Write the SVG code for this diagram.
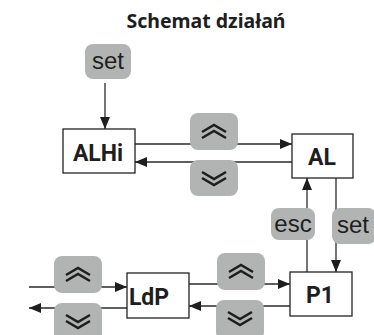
<svg xmlns="http://www.w3.org/2000/svg" width="374" height="335" viewBox="0 0 374 335">
<style>
.btn{fill:#b2b4b3}
.box{fill:#fff;stroke:#222;stroke-width:1.3}
.ln{fill:none;stroke:#2a2a2a;stroke-width:1.3}
.lbl{font-family:Roboto,"Noto Sans",sans-serif;font-weight:bold;font-size:23px;fill:#1e1e1e;text-anchor:middle}
.bt{font-family:"Liberation Sans",Arial,sans-serif;font-size:24px;fill:#1e1e1e;text-anchor:middle}
.title{font-family:"Noto Sans",sans-serif;font-weight:bold;font-size:19.5px;fill:#1e1e1e;text-anchor:middle}
.chev{fill:none;stroke:#1e1e1e;stroke-width:2.6}
</style>
<defs>
<marker id="ah" viewBox="0 0 12 10" refX="12" refY="5" markerWidth="12" markerHeight="10" markerUnits="userSpaceOnUse" orient="auto">
<path d="M0,0 L12,5 L0,10 Z" fill="#1e1e1e"/>
</marker>
<g id="cu"><path class="chev" d="M-12,1 L0,-6 L12,1 M-12,7 L0,0 L12,7"/></g>
<g id="cd"><path class="chev" d="M-12,-6 L0,1 L12,-6 M-12,0 L0,7 L12,0"/></g>
</defs>
<text class="title" x="206" y="28">Schemat działań</text>
<g id="connectors">
<line class="ln" x1="105" y1="83" x2="105" y2="129" marker-end="url(#ah)"/>
<line class="ln" x1="135" y1="144" x2="292" y2="144" marker-end="url(#ah)"/>
<line class="ln" x1="292" y1="162" x2="135" y2="162" marker-end="url(#ah)"/>
<line class="ln" x1="307" y1="272" x2="307" y2="178" marker-end="url(#ah)"/>
<line class="ln" x1="336" y1="178" x2="336" y2="272" marker-end="url(#ah)"/>
<line class="ln" x1="29" y1="287" x2="127" y2="287" marker-end="url(#ah)"/>
<line class="ln" x1="127" y1="308" x2="29" y2="308" marker-end="url(#ah)"/>
<line class="ln" x1="189" y1="284" x2="290" y2="284" marker-end="url(#ah)"/>
<line class="ln" x1="290" y1="306" x2="189" y2="306" marker-end="url(#ah)"/>
</g>
<g id="btn-set-top"><rect class="btn" x="85" y="44" width="46" height="35" rx="8"/><text class="bt" x="108" y="69">set</text></g>
<g id="btn-up-1"><rect class="btn" x="190" y="113" width="48" height="37" rx="8"/><use href="#cu" x="214" y="131"/></g>
<g id="btn-down-1"><rect class="btn" x="190" y="160" width="48" height="36" rx="8"/><use href="#cd" x="214" y="178"/></g>
<g id="btn-esc"><rect class="btn" x="271" y="208" width="44" height="32" rx="8"/><text class="bt" x="293" y="232">esc</text></g>
<g id="btn-set-right"><rect class="btn" x="332" y="208" width="44" height="36" rx="8"/><text class="bt" x="353" y="233">set</text></g>
<g id="btn-up-left"><rect class="btn" x="54" y="256" width="48" height="37" rx="8"/><use href="#cu" x="78" y="274"/></g>
<g id="btn-down-left"><rect class="btn" x="54" y="303" width="48" height="40" rx="8"/><use href="#cd" x="78" y="321"/></g>
<g id="btn-up-mid"><rect class="btn" x="217" y="253" width="48" height="37" rx="8"/><use href="#cu" x="241" y="271"/></g>
<g id="btn-down-mid"><rect class="btn" x="216" y="300" width="48" height="40" rx="8"/><use href="#cd" x="240" y="318"/></g>
<g id="node-ALHi"><rect class="box" x="63" y="129" width="72" height="44"/><text class="lbl" x="98" y="161">ALHi</text></g>
<g id="node-AL"><rect class="box" x="292" y="134" width="61" height="44"/><text class="lbl" x="322" y="165">AL</text></g>
<g id="node-LdP"><rect class="box" x="127" y="273" width="62" height="45"/><text class="lbl" x="149" y="305">LdP</text></g>
<g id="node-P1"><rect class="box" x="290" y="272" width="62" height="44"/><text class="lbl" x="320" y="303">P1</text></g>
</svg>
